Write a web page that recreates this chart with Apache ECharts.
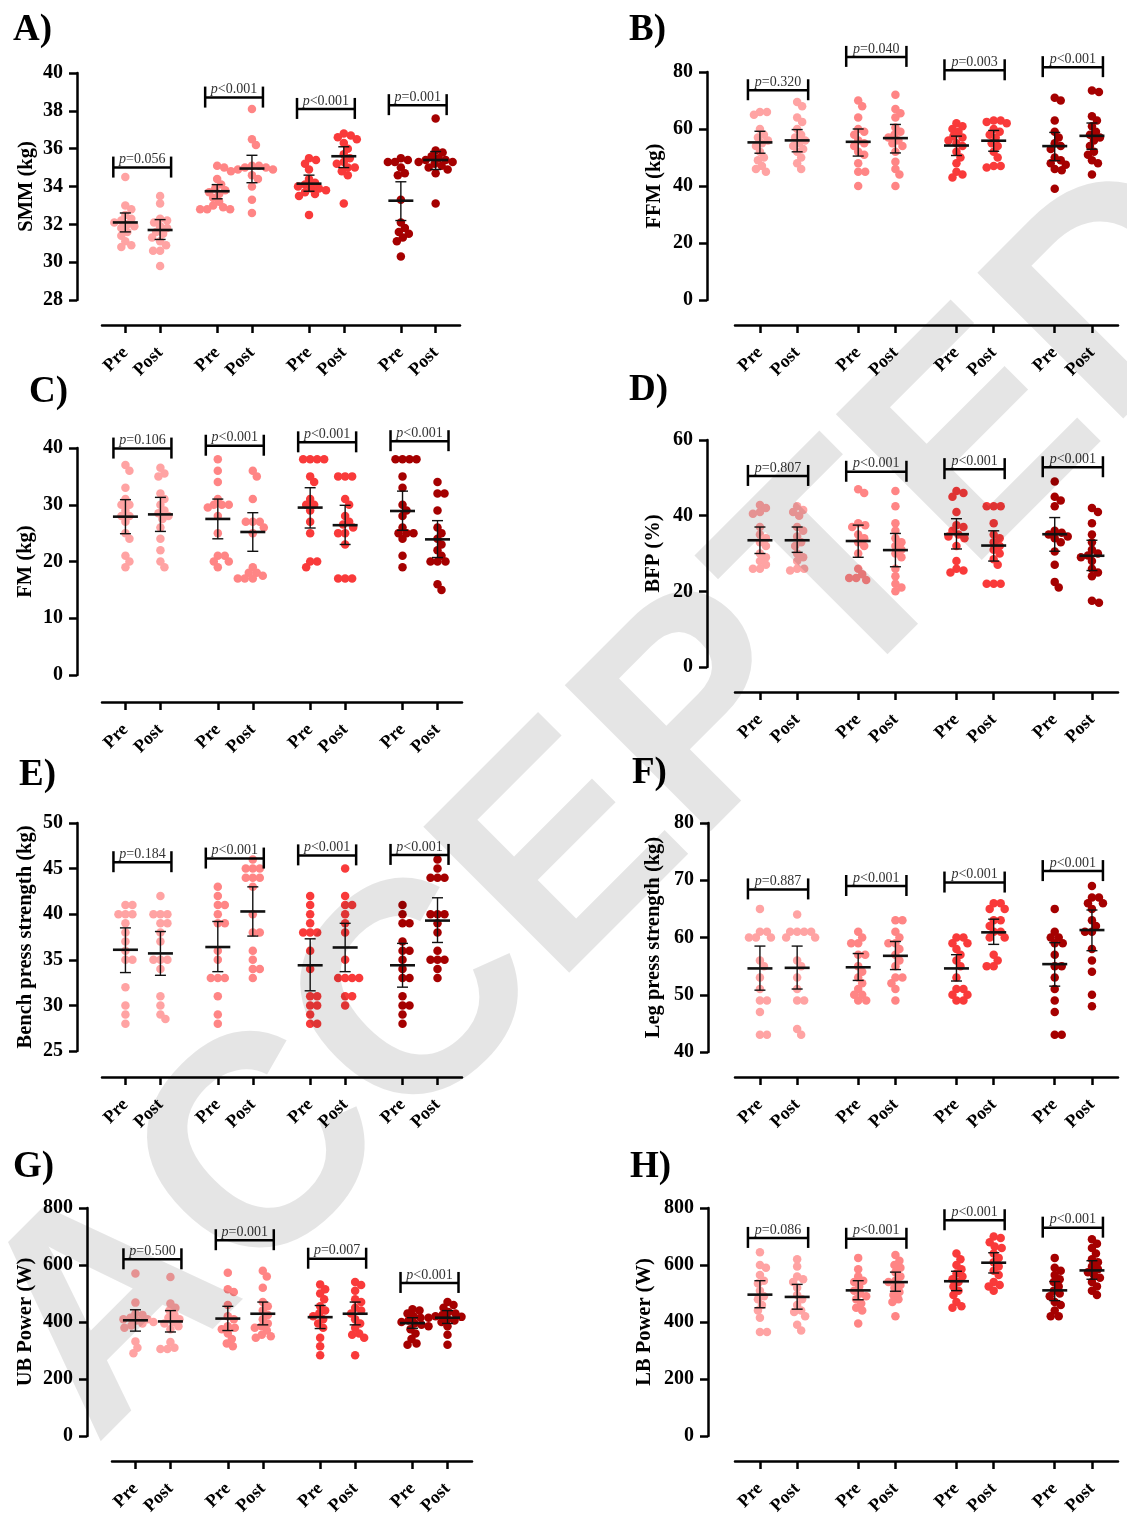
<!DOCTYPE html>
<html>
<head>
<meta charset="utf-8">
<script src="https://cdn.jsdelivr.net/npm/echarts@6/dist/echarts.min.js"></script>
<style>
  html, body { margin: 0; padding: 0; background: #fff; }
  #chart { width: 1127px; height: 1521px; }
</style>
</head>
<body>
<div id="chart"></div>
<script>
// category layout shared by every panel
const xLabels = ['Pre', 'Post', 'Pre', 'Post', 'Pre', 'Post', 'Pre', 'Post'];
const groupColors = ['#ffa3a3', '#ff8585', '#f93a3a', '#a50000'];

// A) SMM (kg)
const smm = [
  [34.5, 33.0, 32.8, 32.5, 32.3, 32.2, 32.1, 32.0, 31.9, 31.8, 31.6, 31.4, 31.1, 30.9, 30.8],
  [33.5, 33.1, 32.3, 32.2, 32.1, 31.9, 31.8, 31.6, 31.5, 31.3, 31.1, 30.9, 30.6, 30.6, 29.8],
  [35.1, 35.0, 34.4, 34.1, 33.9, 33.8, 33.7, 33.6, 33.4, 33.2, 33.0, 32.9, 32.8, 32.8, 32.8],
  [38.1, 36.5, 36.2, 35.1, 35.1, 35.0, 35.0, 34.9, 34.9, 34.8, 34.6, 34.4, 34.0, 33.3, 32.6],
  [35.5, 35.4, 35.2, 34.9, 34.4, 34.2, 34.1, 34.0, 33.9, 33.9, 33.8, 33.7, 33.6, 33.5, 32.5],
  [36.8, 36.7, 36.6, 36.5, 36.3, 36.0, 35.7, 35.5, 35.3, 35.2, 35.0, 35.0, 34.8, 34.6, 33.1],
  [35.5, 35.4, 35.3, 35.3, 35.0, 34.7, 34.6, 33.3, 32.1, 31.8, 31.6, 31.5, 31.3, 31.1, 30.3],
  [37.6, 35.9, 35.8, 35.6, 35.5, 35.4, 35.4, 35.3, 35.3, 35.2, 35.1, 35.0, 34.9, 34.7, 33.1]
];
const smmMean = [32.1, 31.7, 33.75, 34.95, 34.15, 35.6, 33.25, 35.4];
const smmLo = [31.6, 31.2, 33.35, 34.2, 33.75, 35.0, 32.2, 34.9];
const smmHi = [32.6, 32.25, 34.1, 35.65, 34.6, 36.1, 34.25, 35.85];
const smmP = ['=0.056', '<0.001', '<0.001', '=0.001'];
const smmBr = [35.0, 38.7, 38.1, 38.3];

// B) FFM (kg)
const ffm = [
  [66, 66, 65, 60, 58, 57, 56, 55, 54, 52, 50, 49, 47, 46, 45],
  [69.5, 68, 64, 62.5, 60, 58, 57, 56, 55, 54, 53, 52, 50, 48, 46],
  [70, 68, 64, 60, 59, 58, 56, 55, 54, 52, 51, 48, 45, 45, 40],
  [72, 67, 65.5, 64, 60.5, 59, 58, 57, 56, 55, 54, 52, 48.5, 46, 44, 40],
  [62, 61, 60, 59, 57.5, 57, 56, 55, 54, 52, 50, 48, 45, 44, 43],
  [63, 63, 62.5, 62, 60, 59, 58, 57, 55, 54, 52, 50, 47, 47, 46.5],
  [71, 70, 63, 59, 57, 55, 54, 53, 50, 49, 48, 47.5, 46, 45.5, 39],
  [73.5, 73, 64.5, 63, 61, 59, 58, 57, 56, 54, 52, 51, 49, 48, 44]
];
const ffmMean = [55.3, 56.0, 55.5, 56.8, 54.2, 55.9, 54.0, 57.6];
const ffmLo = [51.5, 52.0, 50.5, 51.6, 50.7, 52.2, 48.9, 52.9];
const ffmHi = [59.2, 59.8, 60.0, 61.6, 57.5, 59.5, 58.8, 62.1];
const ffmP = ['=0.320', '=0.040', '=0.003', '<0.001'];
const ffmBr = [73.6, 85.3, 80.6, 81.7];

// C) FM (kg)
const fm = [
  [37, 36, 33, 31, 30, 30, 29, 28, 28, 27, 25, 24, 21, 20, 19],
  [36.5, 35.5, 35, 32, 31, 30, 29, 28.5, 28, 27.5, 26, 24, 22, 20, 19],
  [38, 36, 34, 31, 30, 30, 30, 29.5, 28, 25, 21, 21, 20, 20, 19],
  [36, 35, 31, 27, 27, 27, 26, 25, 19, 18, 18, 17.5, 17, 17, 17],
  [38, 38, 38, 38, 35, 34, 31, 30, 30, 29, 27, 25, 20, 20, 19],
  [35, 35, 35, 31, 30, 28, 27, 26.5, 26, 25, 25, 23, 17, 17, 17],
  [38, 38, 38, 38, 35, 33, 30, 29, 28, 26, 25, 25, 25, 24, 21, 19],
  [34, 32, 32, 29, 26, 25, 24, 23, 22, 21, 20, 20, 20, 16, 15]
];
const fmMean = [27.9, 28.3, 27.5, 25.2, 29.5, 26.4, 28.9, 23.9];
const fmLo = [24.9, 25.3, 24.0, 21.8, 25.9, 23.0, 25.5, 20.7];
const fmHi = [30.9, 31.3, 31.0, 28.6, 33.0, 29.9, 32.4, 27.2];
const fmP = ['=0.106', '<0.001', '<0.001', '<0.001'];
const fmBr = [39.9, 40.4, 41.0, 41.2];

// D) BFP (%)
const bfp = [
  [42.8, 42, 41, 40.5, 37, 35, 34, 33, 32, 30, 29, 28, 27, 26, 26],
  [42.5, 41.5, 41, 40, 37, 36, 34.5, 33, 32, 30, 29, 28, 26, 26, 25.5],
  [47, 46, 38, 37.5, 37, 35, 34, 33, 32, 30, 26, 24.5, 23.5, 23.5, 23],
  [46.5, 42.5, 38, 36, 34, 33, 32, 31, 30, 29, 26, 24, 22, 21, 20],
  [46.5, 46, 45, 41, 37.5, 37, 36, 35, 34.5, 34, 32, 28, 26, 25.5, 25],
  [42.5, 42.5, 42.5, 38, 35, 34, 33, 32, 31, 30, 28.5, 27, 22, 22, 22],
  [49, 45, 44, 42.5, 36, 35.5, 35, 34.5, 34, 33, 30.5, 27, 22.5, 21],
  [42, 41, 38, 35, 33, 31, 30, 29.5, 29, 28, 26, 25, 24, 17.5, 17]
];
const bfpMean = [33.5, 33.5, 33.3, 30.9, 35.1, 32.1, 35.1, 29.4];
const bfpLo = [30.0, 30.3, 29.0, 26.5, 31.2, 28.0, 30.6, 25.5];
const bfpHi = [37.0, 37.0, 37.5, 35.3, 39.2, 36.0, 39.5, 33.5];
const bfpP = ['=0.807', '<0.001', '<0.001', '<0.001'];
const bfpBr = [50.5, 51.6, 52.3, 52.8];

// E) Bench press strength (kg)
const bench = [
  [41, 41, 40, 40, 40, 39, 38, 37, 36, 35, 35, 32, 30, 29, 28],
  [42, 40, 40, 40, 39, 39, 38, 37, 35, 35, 35, 34, 31, 30, 29, 28.5],
  [43, 42, 41, 41, 40, 39, 39, 36, 35, 33, 33, 33, 31, 29, 28],
  [46, 45, 45, 45, 44, 44, 44, 43, 40, 38, 38, 36, 35, 34, 34, 33],
  [42, 41, 40, 39, 38, 38, 38, 36, 34, 31, 31, 30, 30, 29, 28, 28],
  [45, 42, 41, 41, 40, 39, 38, 35, 33, 33, 33, 33, 31, 31, 30],
  [41, 40, 39, 39, 37, 36, 36, 35, 34, 33, 33, 31, 30, 30, 29, 28],
  [46, 45, 44, 44, 44, 40, 40, 40, 39, 38, 36, 35, 35, 35, 34, 33]
];
const benchMean = [36.1, 35.7, 36.4, 40.3, 34.4, 36.35, 34.4, 39.3];
const benchLo = [33.6, 33.3, 33.7, 37.6, 31.6, 33.7, 32.0, 36.9];
const benchHi = [38.5, 38.1, 39.2, 43.0, 37.3, 39.0, 36.8, 41.8];
const benchP = ['=0.184', '<0.001', '<0.001', '<0.001'];
const benchBr = [45.7, 46.1, 46.45, 46.5];

// F) Leg press strength (kg)
const leg = [
  [65, 61, 61, 60, 60, 60, 56, 55, 53, 51, 49, 49, 47, 43, 43],
  [64, 61, 61, 61, 61, 60, 60, 56, 55, 53, 51, 49, 49, 44, 43],
  [61, 60, 59, 59, 57, 57, 55, 54, 53, 52, 51, 50, 50, 49, 49],
  [63, 63, 61, 60, 59, 59, 58, 57, 56, 55, 53, 53, 52, 51, 49],
  [60, 60, 59, 59, 58, 57, 56, 55, 53, 51, 51, 50, 50, 49, 49],
  [66, 66, 65, 65, 63, 63, 62, 61, 61, 60, 60, 57, 56, 55, 55],
  [65, 61, 60, 60, 59, 59, 57, 55, 55, 53, 51, 49, 47, 43, 43],
  [69, 67, 67, 66, 66, 65, 63, 62, 61, 61, 58, 56, 54, 50, 48]
];
const legMean = [54.6, 54.7, 54.8, 56.8, 54.6, 60.9, 55.35, 61.3];
const legLo = [50.8, 51.0, 52.5, 54.4, 52.4, 58.8, 51.5, 57.7];
const legHi = [58.5, 58.5, 57.2, 59.3, 57.0, 63.2, 59.1, 64.8];
const legP = ['=0.887', '<0.001', '<0.001', '<0.001'];
const legBr = [68.4, 69.0, 69.6, 71.6];

// G) UB Power (W)
const ub = [
  [570, 468, 430, 425, 415, 410, 410, 405, 400, 395, 388, 380, 332, 310, 290],
  [558, 465, 450, 440, 425, 415, 410, 400, 395, 385, 375, 330, 310, 305, 305],
  [573, 515, 505, 460, 420, 410, 385, 380, 375, 360, 340, 325, 315],
  [580, 560, 520, 470, 455, 440, 425, 410, 395, 385, 380, 370, 355, 350, 345],
  [532, 515, 500, 480, 455, 440, 430, 420, 410, 395, 380, 345, 315, 283],
  [540, 530, 510, 480, 470, 450, 440, 430, 410, 395, 380, 360, 355, 345, 283],
  [445, 440, 430, 420, 415, 405, 400, 395, 390, 385, 375, 360, 340, 325, 320],
  [470, 460, 450, 435, 430, 425, 420, 418, 415, 410, 405, 400, 385, 355, 320]
];
const ubMean = [406, 402, 412, 429, 417, 429, 396, 415];
const ubLo = [368, 365, 370, 390, 377, 390, 378, 395];
const ubHi = [443, 440, 455, 470, 458, 470, 415, 440];
const ubP = ['=0.500', '=0.001', '=0.007', '<0.001'];
const ubBr = [620, 687, 622, 537];

// H) LB Power (W)
const lb = [
  [645, 600, 590, 565, 545, 535, 510, 490, 480, 460, 440, 415, 365, 365],
  [620, 595, 560, 550, 540, 520, 495, 480, 460, 440, 435, 420, 390, 370],
  [625, 585, 560, 545, 540, 525, 510, 500, 490, 480, 465, 450, 440, 395],
  [635, 615, 600, 590, 575, 560, 545, 540, 530, 520, 505, 495, 480, 470, 420],
  [640, 620, 600, 585, 570, 560, 550, 540, 525, 510, 495, 470, 455, 450],
  [700, 695, 680, 665, 660, 640, 625, 610, 595, 580, 565, 540, 530, 525, 510],
  [625, 590, 580, 565, 550, 540, 525, 510, 500, 490, 470, 460, 440, 420, 420],
  [690, 675, 660, 640, 620, 610, 595, 585, 575, 565, 555, 540, 525, 510, 495]
];
const lbMean = [496, 488, 511, 540, 543, 608, 511, 581];
const lbLo = [450, 445, 478, 508, 510, 572, 475, 550];
const lbHi = [545, 532, 545, 575, 578, 643, 542, 615];
const lbP = ['=0.086', '<0.001', '<0.001', '<0.001'];
const lbBr = [695, 692, 757, 731];

// ---- layout ----
const slots = [0, 1, 2.64, 3.64, 5.28, 6.28, 7.92, 8.92];
const X_MIN = -0.67, X_MAX = 9.62;
const SERIF = '"Liberation Serif", "Times New Roman", serif';

const panels = [
  { letter: 'A)', lx: 13, ly: 12, name: 'SMM (kg)', vals: smm, mean: smmMean, lo: smmLo, hi: smmHi, p: smmP, br: smmBr,
    min: 28, max: 40, step: 2, grid: { left: 102, top: 73, width: 358, height: 227 }, yOff: 25, xOff: 25, gap: 40 },
  { letter: 'B)', lx: 629, ly: 12, name: 'FFM (kg)', vals: ffm, mean: ffmMean, lo: ffmLo, hi: ffmHi, p: ffmP, br: ffmBr,
    min: 0, max: 80, step: 20, grid: { left: 735, top: 72, width: 383, height: 228 }, yOff: 28, xOff: 25, gap: 42 },
  { letter: 'C)', lx: 29, ly: 374, name: 'FM (kg)', vals: fm, mean: fmMean, lo: fmLo, hi: fmHi, p: fmP, br: fmBr,
    min: 0, max: 40, step: 10, grid: { left: 102, top: 448, width: 360, height: 227 }, yOff: 25, xOff: 27, gap: 41 },
  { letter: 'D)', lx: 629, ly: 372, name: 'BFP (%)', vals: bfp, mean: bfpMean, lo: bfpLo, hi: bfpHi, p: bfpP, br: bfpBr,
    min: 0, max: 60, step: 20, grid: { left: 735, top: 440, width: 383, height: 227 }, yOff: 28, xOff: 25, gap: 43 },
  { letter: 'E)', lx: 19, ly: 757, name: 'Bench press strength (kg)', vals: bench, mean: benchMean, lo: benchLo, hi: benchHi, p: benchP, br: benchBr,
    min: 25, max: 50, step: 5, grid: { left: 102, top: 823, width: 360, height: 228 }, yOff: 25, xOff: 26, gap: 41 },
  { letter: 'F)', lx: 632, ly: 755, name: 'Leg press strength (kg)', vals: leg, mean: legMean, lo: legLo, hi: legHi, p: legP, br: legBr,
    min: 40, max: 80, step: 10, grid: { left: 735, top: 823, width: 383, height: 229 }, yOff: 27, xOff: 25, gap: 44 },
  { letter: 'G)', lx: 13, ly: 1149, name: 'UB Power (W)', vals: ub, mean: ubMean, lo: ubLo, hi: ubHi, p: ubP, br: ubBr,
    min: 0, max: 800, step: 200, grid: { left: 112, top: 1208, width: 360, height: 228 }, yOff: 25, xOff: 25, gap: 51 },
  { letter: 'H)', lx: 630, ly: 1149, name: 'LB Power (W)', vals: lb, mean: lbMean, lo: lbLo, hi: lbHi, p: lbP, br: lbBr,
    min: 0, max: 800, step: 200, grid: { left: 735, top: 1208, width: 383, height: 228 }, yOff: 27, xOff: 25, gap: 53 }
];

// simple beeswarm: push each dot sideways until it no longer overlaps placed dots
function swarm(vals, slot, pxX, pxY) {
  const D = 6.5;
  const placed = [];
  return vals.map(v => {
    const py = v * pxY;
    let off = 0;
    for (let k = 0; k < 120; k++) {
      const cand = k === 0 ? 0 : (k % 2 ? (k + 1) / 2 : -k / 2);
      const hit = placed.some(q => (cand - q.x) ** 2 + (py - q.y) ** 2 < D * D);
      if (!hit) { off = cand; break; }
    }
    placed.push({ x: off, y: py });
    return [slot + off / pxX, v];
  });
}

const grids = [], xAxes = [], yAxes = [], series = [], graphics = [];

panels.forEach((pn, i) => {
  grids.push(pn.grid);
  const pxX = pn.grid.width / (X_MAX - X_MIN);
  const pxY = pn.grid.height / (pn.max - pn.min);

  xAxes.push({
    gridIndex: i, type: 'value', min: X_MIN, max: X_MAX, position: 'bottom', offset: pn.xOff,
    splitLine: { show: false },
    axisLine: { show: true, onZero: false, lineStyle: { color: '#000', width: 2.5 } },
    axisTick: { show: true, customValues: slots, length: 8, lineStyle: { color: '#000', width: 2.5 } },
    axisLabel: {
      customValues: slots, rotate: 45, margin: 25,
      fontFamily: SERIF, fontWeight: 'bold', fontSize: 18, color: '#000',
      formatter: v => {
        const k = slots.findIndex(s => Math.abs(s - v) < 1e-6);
        return k >= 0 ? xLabels[k] : '';
      }
    }
  });

  yAxes.push({
    gridIndex: i, type: 'value', min: pn.min, max: pn.max, interval: pn.step, offset: pn.yOff,
    position: 'left',
    name: pn.name, nameLocation: 'middle', nameGap: pn.gap,
    nameTextStyle: { fontFamily: SERIF, fontWeight: 'bold', fontSize: 20.5, color: '#000' },
    splitLine: { show: false },
    axisLine: { show: true, onZero: false, lineStyle: { color: '#000', width: 2.5 } },
    axisTick: { show: true, length: 8, lineStyle: { color: '#000', width: 2.5 } },
    axisLabel: { margin: 14, fontFamily: SERIF, fontWeight: 'bold', fontSize: 20, color: '#000' }
  });

  // dots, one series per colour (pre + post)
  for (let g = 0; g < 4; g++) {
    const pts = [];
    [2 * g, 2 * g + 1].forEach(k => {
      swarm(pn.vals[k], slots[k], pxX, pxY).forEach(d => pts.push(d));
    });
    series.push({
      type: 'scatter', xAxisIndex: i, yAxisIndex: i, symbolSize: 8.5, z: 3,
      itemStyle: { color: groupColors[g], opacity: 1 },
      data: pts, silent: true
    });
  }

  // mean with 95% CI
  series.push({
    type: 'custom', xAxisIndex: i, yAxisIndex: i, z: 5, silent: true,
    data: slots.map((s, k) => [s, pn.mean[k], pn.lo[k], pn.hi[k]]),
    renderItem: (params, api) => {
      const pm = api.coord([api.value(0), api.value(1)]);
      const pl = api.coord([api.value(0), api.value(2)]);
      const ph = api.coord([api.value(0), api.value(3)]);
      const st = w => ({ stroke: '#111', lineWidth: w });
      return {
        type: 'group', children: [
          { type: 'line', shape: { x1: pl[0], y1: pl[1], x2: ph[0], y2: ph[1] }, style: st(1.4) },
          { type: 'line', shape: { x1: pl[0] - 5.5, y1: pl[1], x2: pl[0] + 5.5, y2: pl[1] }, style: st(1.4) },
          { type: 'line', shape: { x1: ph[0] - 5.5, y1: ph[1], x2: ph[0] + 5.5, y2: ph[1] }, style: st(1.4) },
          { type: 'line', shape: { x1: pm[0] - 12.5, y1: pm[1], x2: pm[0] + 12.5, y2: pm[1] }, style: st(2.6) }
        ]
      };
    }
  });

  // p-value brackets
  series.push({
    type: 'custom', xAxisIndex: i, yAxisIndex: i, z: 6, silent: true,
    data: pn.br.map((y, g) => [slots[2 * g], slots[2 * g + 1], y, g]),
    renderItem: (params, api) => {
      const a = api.coord([api.value(0), api.value(2)]);
      const b = api.coord([api.value(1), api.value(2)]);
      const x1 = a[0] - 12, x2 = b[0] + 11, y = a[1];
      const st = { stroke: '#000', lineWidth: 2.5 };
      return {
        type: 'group', children: [
          { type: 'line', shape: { x1: x1, y1: y, x2: x2, y2: y }, style: st },
          { type: 'line', shape: { x1: x1, y1: y - 11, x2: x1, y2: y + 10 }, style: st },
          { type: 'line', shape: { x1: x2, y1: y - 11, x2: x2, y2: y + 10 }, style: st },
          {
            type: 'text', style: {
              x: (x1 + x2) / 2, y: y - 1, align: 'center', verticalAlign: 'bottom',
              text: '{i|p}' + pn.p[api.value(3)],
              fontFamily: SERIF, fontSize: 14, fill: '#333',
              rich: { i: { fontStyle: 'italic', fontFamily: SERIF, fontSize: 14, fill: '#333' } }
            }
          }
        ]
      };
    }
  });

  graphics.push({
    type: 'text', left: pn.lx, top: pn.ly, z: 10,
    style: { text: pn.letter, font: 'bold 37px ' + SERIF, fill: '#000' }
  });
});

// "ACCEPTED" watermark laid over the figure
graphics.push({
  type: 'text', x: 143, y: 1494, rotation: Math.PI / 4, z: 100, silent: true,
  style: {
    text: 'ACCEPTED', font: 'bold 300px "Liberation Sans", Arial, sans-serif',
    fill: 'rgba(0,0,0,0.1)', align: 'left', verticalAlign: 'bottom'
  }
});

const chart = echarts.init(document.getElementById('chart'), null, { renderer: 'canvas' });
chart.setOption({
  backgroundColor: '#fff',
  animation: false,
  grid: grids,
  xAxis: xAxes,
  yAxis: yAxes,
  series: series,
  graphic: graphics
});
</script>
</body>
</html>
